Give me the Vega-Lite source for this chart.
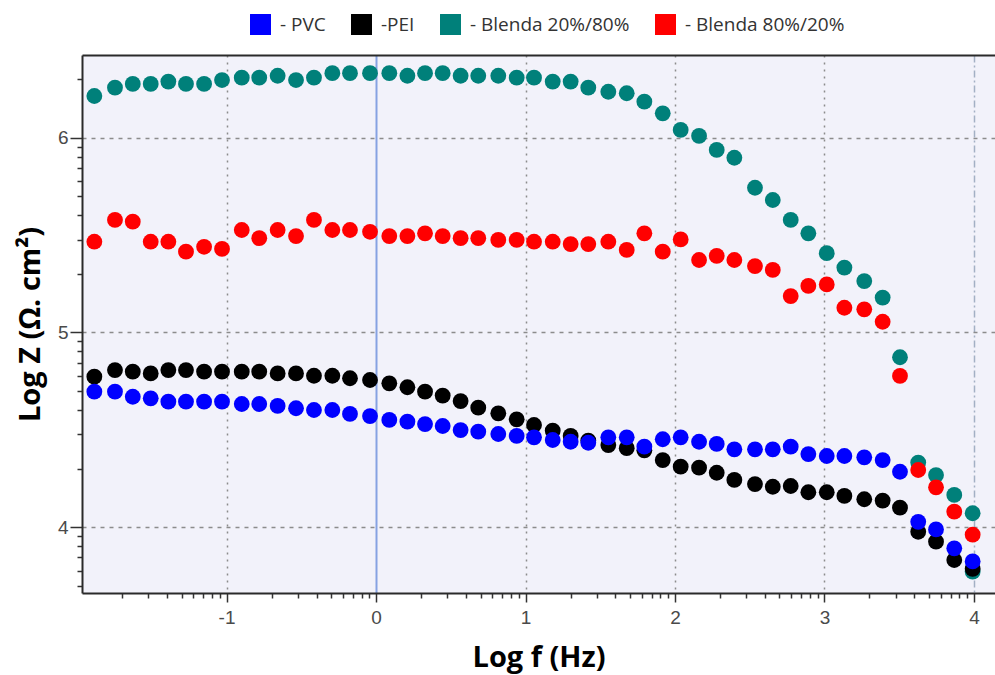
{
  "$schema": "https://vega.github.io/schema/vega-lite/v6.json",
  "width": 913,
  "height": 538,
  "autosize": "none",
  "padding": {"left": 82, "top": 55, "right": 0, "bottom": 82},
  "background": "white",
  "config": {
    "view": {"fill": "#f2f2fa", "stroke": null},
    "axis": {
      "labelFont": "Liberation Sans Narrow, Liberation Sans, sans-serif",
      "labelFontSize": 19,
      "labelColor": "#4a4a4a",
      "titleFont": "Open Sans",
      "titleFontSize": 29,
      "titleFontWeight": "bold",
      "titleColor": "#000000",
      "domainColor": "#2a2a2a",
      "domainWidth": 2,
      "tickColor": "#333333",
      "tickWidth": 1.5
    }
  },
  "data": {
    "values": [
      {"series": "Blenda 20%/80%", "logf": -1.884, "logz": 6.214},
      {"series": "Blenda 20%/80%", "logf": -1.746, "logz": 6.257},
      {"series": "Blenda 20%/80%", "logf": -1.627, "logz": 6.276},
      {"series": "Blenda 20%/80%", "logf": -1.507, "logz": 6.276},
      {"series": "Blenda 20%/80%", "logf": -1.389, "logz": 6.288},
      {"series": "Blenda 20%/80%", "logf": -1.271, "logz": 6.276},
      {"series": "Blenda 20%/80%", "logf": -1.150, "logz": 6.276},
      {"series": "Blenda 20%/80%", "logf": -1.030, "logz": 6.296},
      {"series": "Blenda 20%/80%", "logf": -0.898, "logz": 6.308},
      {"series": "Blenda 20%/80%", "logf": -0.781, "logz": 6.308},
      {"series": "Blenda 20%/80%", "logf": -0.658, "logz": 6.318},
      {"series": "Blenda 20%/80%", "logf": -0.535, "logz": 6.296},
      {"series": "Blenda 20%/80%", "logf": -0.415, "logz": 6.308},
      {"series": "Blenda 20%/80%", "logf": -0.292, "logz": 6.331},
      {"series": "Blenda 20%/80%", "logf": -0.174, "logz": 6.331},
      {"series": "Blenda 20%/80%", "logf": -0.040, "logz": 6.331},
      {"series": "Blenda 20%/80%", "logf": 0.089, "logz": 6.331},
      {"series": "Blenda 20%/80%", "logf": 0.210, "logz": 6.318},
      {"series": "Blenda 20%/80%", "logf": 0.328, "logz": 6.331},
      {"series": "Blenda 20%/80%", "logf": 0.446, "logz": 6.331},
      {"series": "Blenda 20%/80%", "logf": 0.566, "logz": 6.318},
      {"series": "Blenda 20%/80%", "logf": 0.684, "logz": 6.318},
      {"series": "Blenda 20%/80%", "logf": 0.818, "logz": 6.318},
      {"series": "Blenda 20%/80%", "logf": 0.941, "logz": 6.308},
      {"series": "Blenda 20%/80%", "logf": 1.057, "logz": 6.308},
      {"series": "Blenda 20%/80%", "logf": 1.182, "logz": 6.288},
      {"series": "Blenda 20%/80%", "logf": 1.302, "logz": 6.288},
      {"series": "Blenda 20%/80%", "logf": 1.420, "logz": 6.257},
      {"series": "Blenda 20%/80%", "logf": 1.554, "logz": 6.236},
      {"series": "Blenda 20%/80%", "logf": 1.677, "logz": 6.228},
      {"series": "Blenda 20%/80%", "logf": 1.795, "logz": 6.185},
      {"series": "Blenda 20%/80%", "logf": 1.918, "logz": 6.125},
      {"series": "Blenda 20%/80%", "logf": 2.038, "logz": 6.040},
      {"series": "Blenda 20%/80%", "logf": 2.161, "logz": 6.009},
      {"series": "Blenda 20%/80%", "logf": 2.279, "logz": 5.937},
      {"series": "Blenda 20%/80%", "logf": 2.397, "logz": 5.897},
      {"series": "Blenda 20%/80%", "logf": 2.535, "logz": 5.743},
      {"series": "Blenda 20%/80%", "logf": 2.654, "logz": 5.680},
      {"series": "Blenda 20%/80%", "logf": 2.774, "logz": 5.578},
      {"series": "Blenda 20%/80%", "logf": 2.892, "logz": 5.509},
      {"series": "Blenda 20%/80%", "logf": 3.015, "logz": 5.407},
      {"series": "Blenda 20%/80%", "logf": 3.133, "logz": 5.333},
      {"series": "Blenda 20%/80%", "logf": 3.266, "logz": 5.264},
      {"series": "Blenda 20%/80%", "logf": 3.389, "logz": 5.179},
      {"series": "Blenda 20%/80%", "logf": 3.505, "logz": 4.873},
      {"series": "Blenda 20%/80%", "logf": 3.627, "logz": 4.332},
      {"series": "Blenda 20%/80%", "logf": 3.746, "logz": 4.268},
      {"series": "Blenda 20%/80%", "logf": 3.868, "logz": 4.166},
      {"series": "Blenda 20%/80%", "logf": 3.991, "logz": 4.072},
      {"series": "Blenda 20%/80%", "logf": 3.991, "logz": 3.772},

      {"series": "Blenda 80%/20%", "logf": -1.884, "logz": 5.466},
      {"series": "Blenda 80%/20%", "logf": -1.746, "logz": 5.578},
      {"series": "Blenda 80%/20%", "logf": -1.627, "logz": 5.569},
      {"series": "Blenda 80%/20%", "logf": -1.507, "logz": 5.466},
      {"series": "Blenda 80%/20%", "logf": -1.389, "logz": 5.466},
      {"series": "Blenda 80%/20%", "logf": -1.271, "logz": 5.415},
      {"series": "Blenda 80%/20%", "logf": -1.150, "logz": 5.440},
      {"series": "Blenda 80%/20%", "logf": -1.030, "logz": 5.429},
      {"series": "Blenda 80%/20%", "logf": -0.898, "logz": 5.526},
      {"series": "Blenda 80%/20%", "logf": -0.781, "logz": 5.484},
      {"series": "Blenda 80%/20%", "logf": -0.658, "logz": 5.526},
      {"series": "Blenda 80%/20%", "logf": -0.535, "logz": 5.495},
      {"series": "Blenda 80%/20%", "logf": -0.415, "logz": 5.578},
      {"series": "Blenda 80%/20%", "logf": -0.292, "logz": 5.526},
      {"series": "Blenda 80%/20%", "logf": -0.174, "logz": 5.526},
      {"series": "Blenda 80%/20%", "logf": -0.040, "logz": 5.517},
      {"series": "Blenda 80%/20%", "logf": 0.089, "logz": 5.495},
      {"series": "Blenda 80%/20%", "logf": 0.210, "logz": 5.495},
      {"series": "Blenda 80%/20%", "logf": 0.328, "logz": 5.509},
      {"series": "Blenda 80%/20%", "logf": 0.446, "logz": 5.495},
      {"series": "Blenda 80%/20%", "logf": 0.566, "logz": 5.484},
      {"series": "Blenda 80%/20%", "logf": 0.684, "logz": 5.484},
      {"series": "Blenda 80%/20%", "logf": 0.818, "logz": 5.475},
      {"series": "Blenda 80%/20%", "logf": 0.941, "logz": 5.475},
      {"series": "Blenda 80%/20%", "logf": 1.057, "logz": 5.466},
      {"series": "Blenda 80%/20%", "logf": 1.182, "logz": 5.466},
      {"series": "Blenda 80%/20%", "logf": 1.302, "logz": 5.454},
      {"series": "Blenda 80%/20%", "logf": 1.420, "logz": 5.454},
      {"series": "Blenda 80%/20%", "logf": 1.554, "logz": 5.466},
      {"series": "Blenda 80%/20%", "logf": 1.677, "logz": 5.424},
      {"series": "Blenda 80%/20%", "logf": 1.795, "logz": 5.509},
      {"series": "Blenda 80%/20%", "logf": 1.918, "logz": 5.415},
      {"series": "Blenda 80%/20%", "logf": 2.038, "logz": 5.478},
      {"series": "Blenda 80%/20%", "logf": 2.161, "logz": 5.372},
      {"series": "Blenda 80%/20%", "logf": 2.279, "logz": 5.393},
      {"series": "Blenda 80%/20%", "logf": 2.397, "logz": 5.372},
      {"series": "Blenda 80%/20%", "logf": 2.535, "logz": 5.341},
      {"series": "Blenda 80%/20%", "logf": 2.654, "logz": 5.321},
      {"series": "Blenda 80%/20%", "logf": 2.774, "logz": 5.187},
      {"series": "Blenda 80%/20%", "logf": 2.892, "logz": 5.239},
      {"series": "Blenda 80%/20%", "logf": 3.015, "logz": 5.247},
      {"series": "Blenda 80%/20%", "logf": 3.133, "logz": 5.127},
      {"series": "Blenda 80%/20%", "logf": 3.266, "logz": 5.119},
      {"series": "Blenda 80%/20%", "logf": 3.389, "logz": 5.055},
      {"series": "Blenda 80%/20%", "logf": 3.505, "logz": 4.777},
      {"series": "Blenda 80%/20%", "logf": 3.627, "logz": 4.294},
      {"series": "Blenda 80%/20%", "logf": 3.746, "logz": 4.205},
      {"series": "Blenda 80%/20%", "logf": 3.868, "logz": 4.080},
      {"series": "Blenda 80%/20%", "logf": 3.991, "logz": 3.962},

      {"series": "PEI", "logf": -1.884, "logz": 4.773},
      {"series": "PEI", "logf": -1.746, "logz": 4.807},
      {"series": "PEI", "logf": -1.627, "logz": 4.799},
      {"series": "PEI", "logf": -1.507, "logz": 4.790},
      {"series": "PEI", "logf": -1.389, "logz": 4.807},
      {"series": "PEI", "logf": -1.271, "logz": 4.807},
      {"series": "PEI", "logf": -1.150, "logz": 4.799},
      {"series": "PEI", "logf": -1.030, "logz": 4.799},
      {"series": "PEI", "logf": -0.898, "logz": 4.799},
      {"series": "PEI", "logf": -0.781, "logz": 4.799},
      {"series": "PEI", "logf": -0.658, "logz": 4.790},
      {"series": "PEI", "logf": -0.535, "logz": 4.790},
      {"series": "PEI", "logf": -0.415, "logz": 4.778},
      {"series": "PEI", "logf": -0.292, "logz": 4.778},
      {"series": "PEI", "logf": -0.174, "logz": 4.765},
      {"series": "PEI", "logf": -0.040, "logz": 4.756},
      {"series": "PEI", "logf": 0.089, "logz": 4.739},
      {"series": "PEI", "logf": 0.210, "logz": 4.719},
      {"series": "PEI", "logf": 0.328, "logz": 4.696},
      {"series": "PEI", "logf": 0.446, "logz": 4.676},
      {"series": "PEI", "logf": 0.566, "logz": 4.648},
      {"series": "PEI", "logf": 0.684, "logz": 4.614},
      {"series": "PEI", "logf": 0.818, "logz": 4.585},
      {"series": "PEI", "logf": 0.941, "logz": 4.554},
      {"series": "PEI", "logf": 1.057, "logz": 4.525},
      {"series": "PEI", "logf": 1.182, "logz": 4.496},
      {"series": "PEI", "logf": 1.302, "logz": 4.469},
      {"series": "PEI", "logf": 1.420, "logz": 4.445},
      {"series": "PEI", "logf": 1.554, "logz": 4.422},
      {"series": "PEI", "logf": 1.677, "logz": 4.406},
      {"series": "PEI", "logf": 1.795, "logz": 4.395},
      {"series": "PEI", "logf": 1.918, "logz": 4.345},
      {"series": "PEI", "logf": 2.038, "logz": 4.311},
      {"series": "PEI", "logf": 2.161, "logz": 4.306},
      {"series": "PEI", "logf": 2.279, "logz": 4.280},
      {"series": "PEI", "logf": 2.397, "logz": 4.243},
      {"series": "PEI", "logf": 2.535, "logz": 4.222},
      {"series": "PEI", "logf": 2.654, "logz": 4.208},
      {"series": "PEI", "logf": 2.774, "logz": 4.212},
      {"series": "PEI", "logf": 2.892, "logz": 4.180},
      {"series": "PEI", "logf": 3.015, "logz": 4.180},
      {"series": "PEI", "logf": 3.133, "logz": 4.161},
      {"series": "PEI", "logf": 3.266, "logz": 4.144},
      {"series": "PEI", "logf": 3.389, "logz": 4.137},
      {"series": "PEI", "logf": 3.505, "logz": 4.101},
      {"series": "PEI", "logf": 3.627, "logz": 3.977},
      {"series": "PEI", "logf": 3.746, "logz": 3.926},
      {"series": "PEI", "logf": 3.868, "logz": 3.832},
      {"series": "PEI", "logf": 3.991, "logz": 3.787},

      {"series": "PVC", "logf": -1.884, "logz": 4.696},
      {"series": "PVC", "logf": -1.746, "logz": 4.696},
      {"series": "PVC", "logf": -1.627, "logz": 4.670},
      {"series": "PVC", "logf": -1.507, "logz": 4.662},
      {"series": "PVC", "logf": -1.389, "logz": 4.645},
      {"series": "PVC", "logf": -1.271, "logz": 4.645},
      {"series": "PVC", "logf": -1.150, "logz": 4.645},
      {"series": "PVC", "logf": -1.030, "logz": 4.645},
      {"series": "PVC", "logf": -0.898, "logz": 4.633},
      {"series": "PVC", "logf": -0.781, "logz": 4.633},
      {"series": "PVC", "logf": -0.658, "logz": 4.623},
      {"series": "PVC", "logf": -0.535, "logz": 4.611},
      {"series": "PVC", "logf": -0.415, "logz": 4.602},
      {"series": "PVC", "logf": -0.292, "logz": 4.602},
      {"series": "PVC", "logf": -0.174, "logz": 4.582},
      {"series": "PVC", "logf": -0.040, "logz": 4.571},
      {"series": "PVC", "logf": 0.089, "logz": 4.551},
      {"series": "PVC", "logf": 0.210, "logz": 4.542},
      {"series": "PVC", "logf": 0.328, "logz": 4.530},
      {"series": "PVC", "logf": 0.446, "logz": 4.520},
      {"series": "PVC", "logf": 0.566, "logz": 4.499},
      {"series": "PVC", "logf": 0.684, "logz": 4.491},
      {"series": "PVC", "logf": 0.818, "logz": 4.479},
      {"series": "PVC", "logf": 0.941, "logz": 4.469},
      {"series": "PVC", "logf": 1.057, "logz": 4.462},
      {"series": "PVC", "logf": 1.182, "logz": 4.448},
      {"series": "PVC", "logf": 1.302, "logz": 4.439},
      {"series": "PVC", "logf": 1.420, "logz": 4.434},
      {"series": "PVC", "logf": 1.554, "logz": 4.462},
      {"series": "PVC", "logf": 1.677, "logz": 4.462},
      {"series": "PVC", "logf": 1.795, "logz": 4.414},
      {"series": "PVC", "logf": 1.918, "logz": 4.452},
      {"series": "PVC", "logf": 2.038, "logz": 4.462},
      {"series": "PVC", "logf": 2.161, "logz": 4.439},
      {"series": "PVC", "logf": 2.279, "logz": 4.428},
      {"series": "PVC", "logf": 2.397, "logz": 4.400},
      {"series": "PVC", "logf": 2.535, "logz": 4.400},
      {"series": "PVC", "logf": 2.654, "logz": 4.400},
      {"series": "PVC", "logf": 2.774, "logz": 4.414},
      {"series": "PVC", "logf": 2.892, "logz": 4.376},
      {"series": "PVC", "logf": 3.015, "logz": 4.366},
      {"series": "PVC", "logf": 3.133, "logz": 4.366},
      {"series": "PVC", "logf": 3.266, "logz": 4.359},
      {"series": "PVC", "logf": 3.389, "logz": 4.345},
      {"series": "PVC", "logf": 3.505, "logz": 4.285},
      {"series": "PVC", "logf": 3.627, "logz": 4.028},
      {"series": "PVC", "logf": 3.746, "logz": 3.989},
      {"series": "PVC", "logf": 3.868, "logz": 3.892},
      {"series": "PVC", "logf": 3.991, "logz": 3.825}
    ]
  },
  "encoding": {
    "y": {
      "field": "logz",
      "type": "quantitative",
      "scale": {"domain": [3.6627, 6.4245], "nice": false, "zero": false},
      "axis": {
        "title": "Log Z (Ω. cm²)",
        "titlePadding": 12,
        "values": [3.699, 3.778, 3.845, 3.903, 3.954, 4, 4.301, 4.477, 4.602, 4.699, 4.778, 4.845, 4.903, 4.954, 5, 5.301, 5.477, 5.602, 5.699, 5.778, 5.845, 5.903, 5.954, 6, 6.301],
        "labelExpr": "abs(datum.value - round(datum.value)) < 0.001 ? '' + round(datum.value) : ''",
        "labelPadding": 2,
        "labelFlush": false,
        "labelOverlap": false,
        "tickSize": {"condition": {"test": "abs(datum.value - round(datum.value)) < 0.001", "value": 12}, "value": 5},
        "grid": true,
        "gridColor": "#8c8c8c",
        "gridDash": [4, 5],
        "gridWidth": 1.5,
        "gridOpacity": {"condition": {"test": "abs(datum.value - round(datum.value)) < 0.001", "value": 1}, "value": 0}
      }
    },
    "color": {
      "field": "series",
      "type": "nominal",
      "scale": {
        "domain": ["PVC", "PEI", "Blenda 20%/80%", "Blenda 80%/20%"],
        "range": ["#0000ff", "#000000", "#00807a", "#ff0000"]
      },
      "legend": {
        "orient": "none",
        "legendX": 168,
        "legendY": -41,
        "direction": "horizontal",
        "title": null,
        "symbolType": "square",
        "symbolSize": 440,
        "symbolStrokeWidth": 0,
        "symbolOpacity": 1,
        "labelFont": "Open Sans",
        "labelFontSize": 19,
        "labelColor": "#333333",
        "labelOffset": 9,
        "columnPadding": 25,
        "labelExpr": "datum.label == 'PEI' ? '-PEI' : '- ' + datum.label"
      }
    }
  },
  "layer": [
    {
      "transform": [{"filter": {"field": "series", "oneOf": ["Blenda 20%/80%", "Blenda 80%/20%"]}}],
      "mark": {"type": "circle", "size": 250, "opacity": 1},
      "encoding": {
        "x": {
          "field": "logf",
          "type": "quantitative",
          "scale": {"domain": [-1.9666, 4.1405], "nice": false, "zero": false},
          "axis": {
            "orient": "top",
            "title": null,
            "labels": false,
            "ticks": false,
            "grid": false,
            "domain": true,
            "domainColor": "#2a2a2a",
            "domainWidth": 2
          }
        }
      }
    },
    {
      "transform": [{"filter": {"field": "series", "oneOf": ["PEI", "PVC"]}}],
      "mark": {"type": "circle", "size": 250, "opacity": 1},
      "encoding": {
        "x": {
          "field": "logf",
          "type": "quantitative",
          "scale": {"domain": [-1.9666, 4.1405], "nice": false, "zero": false},
          "axis": {
            "orient": "bottom",
            "title": "Log f (Hz)",
            "titlePadding": 16,
            "values": [-1.699, -1.523, -1.398, -1.301, -1.222, -1.155, -1.097, -1.046, -1, -0.699, -0.523, -0.398, -0.301, -0.222, -0.155, -0.097, -0.046, 0, 0.301, 0.477, 0.602, 0.699, 0.778, 0.845, 0.903, 0.954, 1, 1.301, 1.477, 1.602, 1.699, 1.778, 1.845, 1.903, 1.954, 2, 2.301, 2.477, 2.602, 2.699, 2.778, 2.845, 2.903, 2.954, 3, 3.301, 3.477, 3.602, 3.699, 3.778, 3.845, 3.903, 3.954, 4],
            "labelExpr": "abs(datum.value - round(datum.value)) < 0.001 ? '' + round(datum.value) : ''",
            "labelPadding": 6,
            "labelFlush": false,
            "labelOverlap": false,
            "tickSize": {"condition": {"test": "abs(datum.value - round(datum.value)) < 0.001", "value": 9}, "value": 5},
            "grid": true,
            "gridWidth": {"condition": {"test": "datum.value == 0", "value": 2}, "value": 1.5},
            "gridColor": {"condition": [{"test": "datum.value == 0", "value": "#86a2e2"}, {"test": "datum.value == 4", "value": "#a3b0c4"}], "value": "#8c8c8c"},
            "gridDash": {"condition": [{"test": "datum.value == 0", "value": [1, 0]}, {"test": "datum.value == 4", "value": [7, 3, 2, 3]}], "value": [2, 5]},
            "gridOpacity": {"condition": {"test": "abs(datum.value - round(datum.value)) < 0.001", "value": 1}, "value": 0}
          }
        }
      }
    }
  ],
  "resolve": {"axis": {"x": "independent"}}
}
